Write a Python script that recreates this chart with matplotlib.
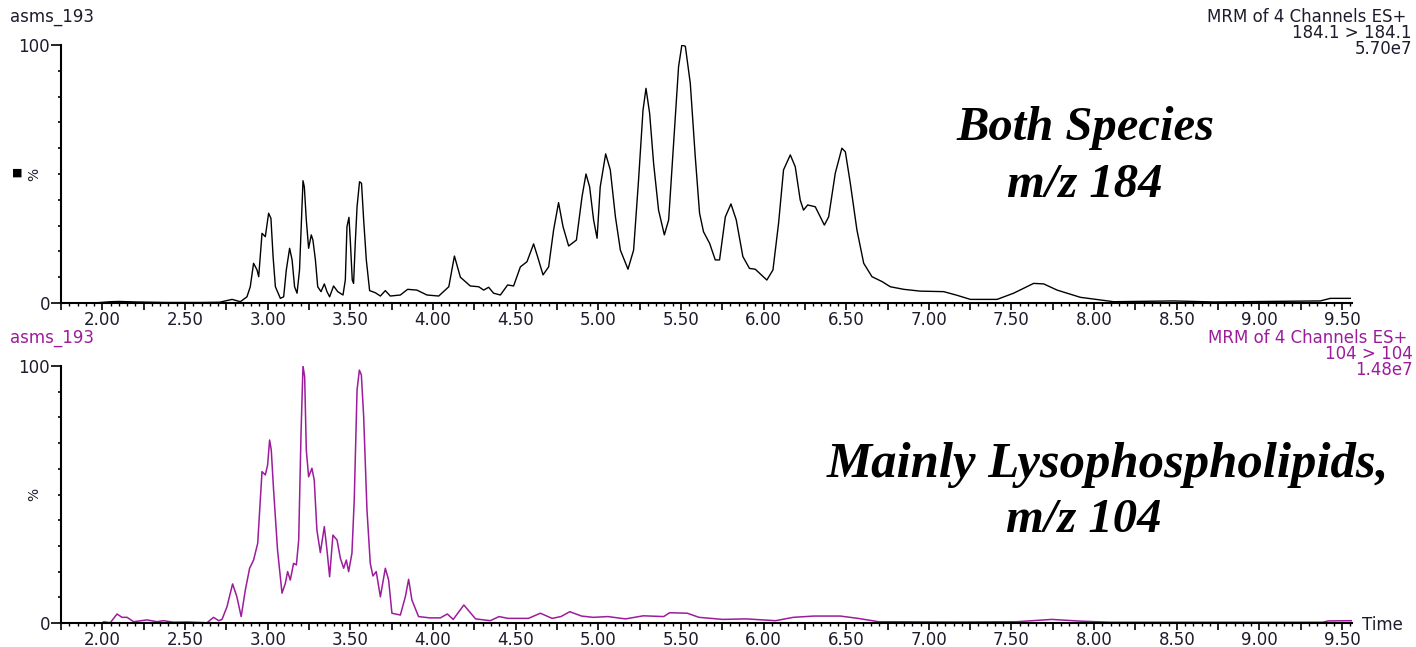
"""
Two stacked MRM chromatogram traces (m/z 184 and m/z 104).
"""

import matplotlib
matplotlib.use('Agg')
import matplotlib.pyplot as plt
from matplotlib.ticker import MultipleLocator, FixedLocator

plt.rcParams['font.family'] = ['DejaVu Sans']

# trace 1: 184.1 > 184.1 (time in min, relative intensity in %)
t184 = [1.75, 1.95, 2.05, 2.10, 2.20, 2.40, 2.60, 2.71, 2.785, 2.835, 2.875, 2.895,
        2.915, 2.936, 2.946, 2.966, 2.986, 3.006, 3.02, 3.033, 3.047, 3.077, 3.097,
        3.113, 3.133, 3.148, 3.163, 3.178, 3.193, 3.201, 3.214, 3.222, 3.234, 3.248,
        3.264, 3.274, 3.289, 3.303, 3.323, 3.343, 3.359, 3.375, 3.399, 3.424, 3.456,
        3.47, 3.48, 3.492, 3.5, 3.512, 3.52, 3.53, 3.541, 3.556, 3.568, 3.581, 3.597,
        3.617, 3.651, 3.682, 3.712, 3.742, 3.803, 3.847, 3.903, 3.964, 4.035, 4.096,
        4.13, 4.166, 4.226, 4.277, 4.307, 4.337, 4.367, 4.408, 4.452, 4.488, 4.529,
        4.569, 4.609, 4.633, 4.666, 4.7, 4.73, 4.76, 4.787, 4.821, 4.868, 4.902, 4.926,
        4.948, 4.972, 4.993, 5.012, 5.045, 5.073, 5.104, 5.134, 5.18, 5.214, 5.244,
        5.271, 5.289, 5.311, 5.335, 5.365, 5.4, 5.426, 5.456, 5.486, 5.506, 5.527,
        5.557, 5.587, 5.613, 5.637, 5.674, 5.708, 5.734, 5.769, 5.803, 5.835, 5.875,
        5.915, 5.95, 6.02, 6.057, 6.091, 6.121, 6.162, 6.192, 6.222, 6.242, 6.267,
        6.313, 6.368, 6.394, 6.434, 6.474, 6.495, 6.525, 6.565, 6.606, 6.656, 6.717,
        6.767, 6.848, 6.948, 7.09, 7.17, 7.251, 7.413, 7.513, 7.634, 7.695, 7.776,
        7.917, 8.118, 8.481, 8.723, 9.368, 9.429, 9.55]
i184 = [0, 0, 0.5, 0.6, 0.4, 0.2, 0.2, 0.3, 1.4, 0.5, 2.4, 6.3,
        15.4, 12.8, 10.2, 27, 25.7, 34.8, 32.8, 18, 6.3, 1.8, 2.4,
        12.8, 21.2, 16.7, 6.3, 3.8, 12.8, 25.7, 47.4, 45, 32.2, 21.2,
        26.4, 24.4, 16.7, 6.3, 4.4, 7.4, 4.4, 2.4, 6.6, 4.4, 3.1,
        8.9, 29.6, 33.2, 24.4, 8.9, 7.6, 23, 37.3, 47, 46.4, 32.2, 16.7,
        4.8, 4.0, 2.7, 4.8, 2.7, 3.1, 5.3, 5.0, 3.1, 2.7, 6.3,
        18.2, 10, 6.6, 6.3, 5, 6.1, 3.8, 3.1, 7, 6.6, 14,
        16, 22.9, 18, 10.9, 14, 28.3, 38.9, 29.6, 22.1, 24.4, 41.2, 50,
        45, 32.2, 25.1, 45, 57.8, 51.6, 33.4, 20.5, 13.1, 20.5, 47.7,
        74.8, 83.2, 73.5, 54.1, 36, 26.4, 32.2, 61.9, 91.6, 100, 99.5,
        85.1, 56.7, 34.8, 27.6, 23.1, 16.7, 16.7, 33.4, 38.4, 32.2, 18,
        13.4, 13.1, 8.9, 12.8, 30.9, 51.6, 57.4, 52.8, 39.9, 36, 38,
        37.3, 30.2, 33.4, 50.3, 60, 58.6, 46.4, 28.3, 15.4, 10.2, 8.3,
        6.3, 5.3, 4.6, 4.4, 3.0, 1.4, 1.4, 3.8, 7.6, 7.4, 5,
        2.2, 0.5, 0.8, 0.4, 0.8, 1.8, 1.8]

# trace 2: 104 > 104
t104 = [1.75, 2.0, 2.008, 2.048, 2.089, 2.119, 2.15, 2.189, 2.27, 2.331, 2.371, 2.431,
        2.512, 2.633, 2.673, 2.704, 2.724, 2.754, 2.788, 2.814, 2.84, 2.865, 2.891,
        2.915, 2.94, 2.966, 2.986, 3.0, 3.012, 3.022, 3.036, 3.06, 3.087, 3.107, 3.121,
        3.137, 3.157, 3.174, 3.188, 3.202, 3.214, 3.224, 3.234, 3.248, 3.268, 3.282,
        3.298, 3.319, 3.343, 3.359, 3.375, 3.395, 3.42, 3.44, 3.46, 3.476, 3.49, 3.51,
        3.524, 3.541, 3.555, 3.567, 3.581, 3.601, 3.621, 3.637, 3.657, 3.682, 3.712,
        3.732, 3.752, 3.803, 3.833, 3.853, 3.873, 3.913, 3.98, 4.045, 4.087, 4.123,
        4.187, 4.258, 4.347, 4.4, 4.454, 4.578, 4.65, 4.721, 4.774, 4.828, 4.899, 4.97,
        5.058, 5.165, 5.273, 5.396, 5.432, 5.539, 5.61, 5.753, 5.895, 6.073, 6.18,
        6.304, 6.465, 6.571, 6.696, 7.176, 7.532, 7.745, 7.923, 8.1, 9.382, 9.416, 9.56]
i104 = [0, 0, 0.5, 0.1, 3.5, 2.2, 2.2, 0.5, 1.2, 0.5, 0.9, 0.3,
        0.4, 0.1, 2.2, 0.9, 1.4, 6.3, 15.2, 10.2, 2.5, 12.8, 21.3,
        24.5, 31, 58.9, 57.6, 61.5, 71.2, 67.3, 51.8, 28.4, 11.6, 15.4, 20,
        16.7, 23.2, 22.6, 32.3, 73.8, 100, 95.8, 67.3, 56.9, 60.2, 55.6,
        36.2, 27.4, 37.5, 28.4, 18, 34.2, 32.3, 25.2, 21.3, 24.5, 20, 27.1,
        47.9, 90.7, 98.4, 96.5, 80.3, 44, 23.2, 18.3, 20, 10.2, 21.3,
        16.7, 3.8, 3.1, 10.2, 17, 8.9, 2.5, 2.0, 2.0, 3.5, 1.4,
        7, 1.6, 0.9, 2.5, 1.8, 1.8, 3.8, 1.8, 2.5, 4.4, 2.7, 2.2,
        2.5, 1.6, 2.8, 2.5, 4, 3.8, 2.2, 1.4, 1.6, 0.9, 2.2,
        2.7, 2.7, 1.8, 0.5, 0.4, 0.5, 1.4, 0.7, 0.3, 0.3, 0.8, 0.9]

time_labels = ['2.00', '2.50', '3.00', '3.50', '4.00', '4.50', '5.00', '5.50',
               '6.00', '6.50', '7.00', '7.50', '8.00', '8.50', '9.00', '9.50']

W, H = 1416, 647
fig = plt.figure(figsize=(W / 100, H / 100), dpi=100)

purple = '#9c1c9c'
dark = '#1c1c2c'
fs = 12


def px(x, y):
    # figure pixel -> figure fraction
    return x / W, 1 - y / H


def setup(ax):
    ax.set_xlim(1.75, 9.56)
    ax.set_ylim(0, 100)
    for s in ['top', 'right']:
        ax.spines[s].set_visible(False)
    for s in ['left', 'bottom']:
        ax.spines[s].set_linewidth(1.5)
    ax.yaxis.set_major_locator(FixedLocator([0, 100]))
    ax.yaxis.set_minor_locator(MultipleLocator(10))
    ax.set_yticklabels(['0', '100'])
    ax.tick_params(axis='y', which='major', length=7, width=1.2, pad=1,
                   labelsize=fs, labelcolor=dark)
    ax.tick_params(axis='y', which='minor', length=2.5, width=1.2)
    majors = [2.0 + 0.25 * k for k in range(-1, 31)]
    ax.xaxis.set_major_locator(FixedLocator(majors))
    ax.xaxis.set_minor_locator(MultipleLocator(0.05))
    ax.set_xticklabels([('%.2f' % m) if ('%.2f' % m) in time_labels else ''
                        for m in majors])
    ax.tick_params(axis='x', which='major', length=5, width=1.2, pad=1,
                   labelsize=fs, labelcolor=dark)
    ax.tick_params(axis='x', which='minor', length=2.5, width=1.0)
    ax.set_facecolor('none')


l, r = 61, 1352
ax1 = fig.add_axes([l / W, 1 - 303 / H, (r - l) / W, 258 / H])
ax2 = fig.add_axes([l / W, 1 - 623 / H, (r - l) / W, 257 / H])
setup(ax1)
setup(ax2)

ax1.plot(t184, i184, color='black', lw=1.0)
ax2.plot(t104, i104, color=purple, lw=1.1)

# "%" labels on the y axes
for ax in (ax1, ax2):
    ax.text(-0.021, 0.5, '%', rotation=90, transform=ax.transAxes,
            ha='center', va='center', fontsize=10, color=dark)
fig.text(*px(17, 173), '\u25A0', fontsize=8, ha='center', va='center', color='black')

# header texts
fig.text(*px(10, 17), 'asms_193', fontsize=fs, color=dark, va='center')
fig.text(*px(10, 338), 'asms_193', fontsize=fs, color=purple, va='center')
fig.text(*px(1406, 17), 'MRM of 4 Channels ES+', fontsize=fs, color=dark,
         ha='right', va='center')
fig.text(*px(1412, 33), '184.1 > 184.1', fontsize=fs, color=dark, ha='right', va='center')
fig.text(*px(1412, 49), '5.70e7', fontsize=fs, color=dark, ha='right', va='center')
fig.text(*px(1407, 338), 'MRM of 4 Channels ES+', fontsize=fs, color=purple,
         ha='right', va='center')
fig.text(*px(1413, 354), '104 > 104', fontsize=fs, color=purple, ha='right', va='center')
fig.text(*px(1413, 370), '1.48e7', fontsize=fs, color=purple, ha='right', va='center')
fig.text(*px(1362, 625), 'Time', fontsize=fs, color=dark, va='center')

# annotations
big = dict(family=['Liberation Serif', 'DejaVu Serif'], fontsize=35,
           fontweight='bold', style='italic', ha='center', va='center', color='black')
fig.text(*px(1085, 128), 'Both Species', **big)
fig.text(*px(1085, 185), 'm/z 184', **big)
fig.text(*px(1108, 465), 'Mainly Lysophospholipids,', fontsize=36.5,
         **{k: v for k, v in big.items() if k != 'fontsize'})
fig.text(*px(1084, 520), 'm/z 104', **big)

fig.savefig('out.png', dpi=100)
